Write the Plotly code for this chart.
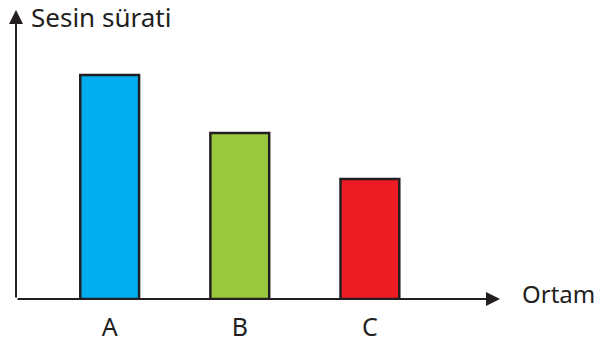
import plotly.graph_objects as go

ortamlar = ['A', 'B', 'C']
hizlar = [7.75, 5.74, 4.15]
renkler = ['#00aeef', '#9ac93d', '#ed1c24']

koyu = '#231f20'
font_adi = 'Comic Sans MS, Noto Sans, DejaVu Sans'

x_min, x_max = -0.72, 3.0
y_min, y_max = 0, 10

fig = go.Figure(go.Bar(
    x=ortamlar,
    y=hizlar,
    width=0.452,
    marker=dict(color=renkler, line=dict(color=koyu, width=2.5)),
    hoverinfo='skip'
))

# eksen okları
fig.add_annotation(x=x_min, y=y_max, ax=x_min, ay=y_min, xref='x', yref='y', axref='x', ayref='y',
                   text='', showarrow=True, arrowhead=2, arrowsize=1.4, arrowwidth=2, arrowcolor=koyu)
fig.add_annotation(x=x_max, y=y_min, ax=x_min, ay=y_min, xref='x', yref='y', axref='x', ayref='y',
                   text='', showarrow=True, arrowhead=2, arrowsize=1.4, arrowwidth=2, arrowcolor=koyu)

fig.add_annotation(x=0.026, y=1.0, xref='paper', yref='paper', text='Sesin sürati', showarrow=False,
                   xanchor='left', yanchor='middle', yshift=-7, font=dict(size=26, color=koyu, family=font_adi))
fig.add_annotation(x=1.041, y=0.0, xref='paper', yref='paper', text='Ortam', showarrow=False,
                   xanchor='left', yanchor='middle', yshift=6, font=dict(size=24, color=koyu, family=font_adi))

fig.update_layout(
    width=600, height=348,
    margin=dict(l=16, r=100, t=10, b=49, autoexpand=False),
    paper_bgcolor='white', plot_bgcolor='white',
    showlegend=False,
    font=dict(family=font_adi, color=koyu)
)
fig.update_xaxes(type='category', range=[x_min, x_max], showgrid=False, zeroline=False, showline=False,
                 automargin=False, ticks='', ticklabelstandoff=11,
                 tickfont=dict(size=25, color=koyu, family=font_adi))
fig.update_yaxes(range=[y_min, y_max], showgrid=False, zeroline=False, showline=False,
                 automargin=False, showticklabels=False)

fig.write_html("out.html", config={'displayModeBar': False},
               post_script="document.body.style.margin='0';")
